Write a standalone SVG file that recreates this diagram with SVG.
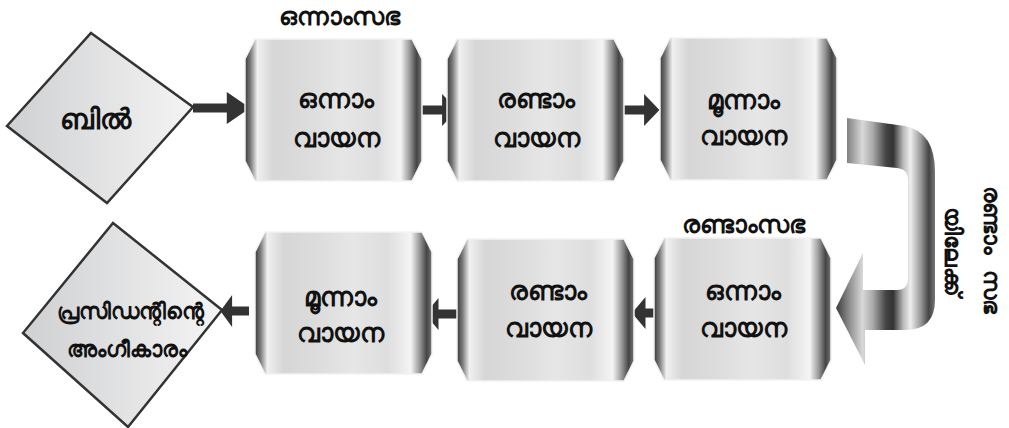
<svg xmlns="http://www.w3.org/2000/svg" width="1009" height="428" viewBox="0 0 1009 428">
<defs>
<linearGradient id="boxg" x1="0" y1="0" x2="1" y2="0">
<stop offset="0" stop-color="#3a3a3a"/>
<stop offset="0.03" stop-color="#777"/>
<stop offset="0.07" stop-color="#f0f0f0"/>
<stop offset="0.16" stop-color="#d6d6d6"/>
<stop offset="0.35" stop-color="#dcdcdc"/>
<stop offset="0.55" stop-color="#e6e6e6"/>
<stop offset="0.75" stop-color="#dedede"/>
<stop offset="0.88" stop-color="#f4f4f4"/>
<stop offset="0.93" stop-color="#9a9a9a"/>
<stop offset="0.97" stop-color="#444"/>
<stop offset="1" stop-color="#777"/>
</linearGradient>
<linearGradient id="diag" x1="0" y1="0" x2="1" y2="0">
<stop offset="0" stop-color="#cfd0d2"/>
<stop offset="1" stop-color="#f4f4f4"/>
</linearGradient>
<linearGradient id="ribbon" gradientUnits="userSpaceOnUse" x1="835" y1="0" x2="937" y2="0">
<stop offset="0" stop-color="#333"/>
<stop offset="0.13" stop-color="#888"/>
<stop offset="0.27" stop-color="#d8d8d8"/>
<stop offset="0.37" stop-color="#aaa"/>
<stop offset="0.5" stop-color="#444"/>
<stop offset="0.57" stop-color="#333"/>
<stop offset="0.67" stop-color="#bbb"/>
<stop offset="0.74" stop-color="#eee"/>
<stop offset="0.84" stop-color="#999"/>
<stop offset="0.92" stop-color="#444"/>
<stop offset="1" stop-color="#888"/>
</linearGradient>
<path id="box" d="M10 0 H167 L177 20 V122 L167 142 H10 L0 122 V20 Z"/>
<path id="arr" d="M0 -4.5 H26 V-16 L44 0 L26 16 V4.5 H0 Z"/>
</defs>
<style>
.bx{fill:url(#boxg);stroke:#f2f2f2;stroke-width:1.5}
.dm{fill:url(#diag);stroke:#333;stroke-width:2.5}
.t{font-family:"Noto Sans",sans-serif;font-weight:bold;font-size:25.5px;fill:#111;text-anchor:middle}
.s{font-size:25px}
.v{font-size:23px}
.d{font-size:21.5px}
.ar{fill:#333}
</style>
<rect width="1009" height="428" fill="#fff"/>
<g id="connectors">
<use href="#arr" class="ar" transform="translate(193,108) scale(1.3,1)"/>
<use href="#arr" class="ar" transform="translate(420,110) scale(0.85,1)"/>
<use href="#arr" class="ar" transform="translate(622,110) scale(0.85,1)"/>
<use href="#arr" class="ar" transform="translate(665,313) scale(-0.75,1)"/>
<use href="#arr" class="ar" transform="translate(458,314) scale(-0.75,1)"/>
<use href="#arr" class="ar" transform="translate(249,311) scale(-0.65,1)"/>
<path fill="url(#ribbon)" d="M847 118 L905 126 Q935 132 935 172 L935 300 Q935 330 905 330 L865 330 L865 365 L836 308 L863 253 L863 290 L897 290 Q908 290 908 278 L908 180 Q908 169 897 168 L847 163 Z"/>
</g>
<g id="bill">
<path class="dm" d="M91 33 L193 107 L107 203 L7 126 Z"/>
<text class="t" x="95" y="129" style="font-size:28px">ബിൽ</text>
</g>
<g id="house1-label"><text class="t s" x="339" y="25">ഒന്നാംസഭ</text></g>
<g id="h1r1"><use href="#box" class="bx" x="245" y="39"/><text class="t" x="336" y="108">ഒന്നാം</text><text class="t" x="336" y="147">വായന</text></g>
<g id="h1r2"><use href="#box" class="bx" x="447" y="39"/><text class="t" x="536" y="108">രണ്ടാം</text><text class="t" x="536" y="147">വായന</text></g>
<g id="h1r3"><use href="#box" class="bx" x="660" y="38"/><text class="t" x="743" y="109">മൂന്നാം</text><text class="t" x="743" y="145">വായന</text></g>
<g id="house2-label"><text class="t s" x="743" y="233">രണ്ടാംസഭ</text></g>
<g id="to-house2"><text class="t v" transform="translate(984,250) rotate(90)">രണ്ടാം <tspan dx="10">സഭ</tspan></text><text class="t v" transform="translate(945,251) rotate(90)">യിലേക്ക്</text></g>
<g id="h2r1"><use href="#box" class="bx" x="654" y="238"/><text class="t" x="743" y="300">ഒന്നാം</text><text class="t" x="743" y="337">വായന</text></g>
<g id="h2r2"><use href="#box" class="bx" x="457" y="239"/><text class="t" x="548" y="300">രണ്ടാം</text><text class="t" x="548" y="337">വായന</text></g>
<g id="h2r3"><use href="#box" class="bx" x="255" y="232"/><text class="t" x="340" y="306">മൂന്നാം</text><text class="t" x="340" y="342">വായന</text></g>
<g id="assent">
<path class="dm" d="M113 223 L222 310 L128 427 L23 333 Z"/>
<text class="t d" x="130" y="319">പ്രസിഡന്റിന്റെ</text>
<text class="t d" x="127" y="357">അംഗീകാരം</text>
</g>
</svg>
